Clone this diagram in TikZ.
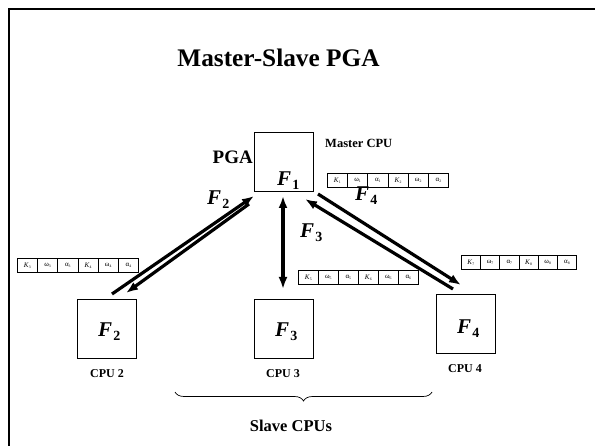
\documentclass[tikz,border=0pt]{standalone}
\usepackage{fontspec}
\setmainfont{Liberation Serif}
\usetikzlibrary{arrows.meta,decorations.pathreplacing,calc}

% bold italic F with an upright bold index
\newcommand{\Flab}[1]{{\bfseries\itshape F}\kern0.05em{\bfseries\raisebox{-0.32ex}{\fontsize{14}{14}\selectfont #1}}}
% gene labels in the chromosome strips
\newcommand{\gK}[1]{\textit{K}\raisebox{-0.35ex}{\fontsize{3.8}{4}\selectfont #1}}
\newcommand{\gw}[1]{ω\raisebox{-0.35ex}{\fontsize{3.8}{4}\selectfont #1}}
\newcommand{\ga}[1]{α\raisebox{-0.35ex}{\fontsize{3.8}{4}\selectfont #1}}

\tikzset{
  cpubox/.style={draw, line width=0.8pt, minimum size=59pt, inner sep=0pt},
  flabel/.style={font=\fontsize{21}{21}\selectfont, inner sep=0pt, anchor=base west},
  cpulabel/.style={font=\bfseries\fontsize{12}{12}\selectfont, inner sep=0pt, anchor=base},
  gene/.style={draw, line width=0.6pt, minimum width=20pt, minimum height=14pt,
    inner sep=0pt, font=\fontsize{7}{7}\selectfont},
  link/.style={line width=3.2pt, -{Latex[length=12pt,width=9pt]}},
  dlink/.style={line width=3.2pt, {Latex[length=12pt,width=9pt]}-{Latex[length=12pt,width=9pt]}},
}

% one chromosome strip of six genes, cells named <name>-1 ... <name>-6
\newcommand{\strip}[5]{%
  \foreach \lab [count=\i] in {\gK{#4},\gw{#4},\ga{#4},\gK{#5},\gw{#5},\ga{#5}}
    \node[gene, minimum width=#3, anchor=north west] (#1-\i)
      at ($(#2)+({(\i-1)*#3},0)$) {\lab};%
}

\begin{document}
\begin{tikzpicture}[x=1pt,y=-1pt]
  \useasboundingbox (0,0) rectangle (595,446);

  % slide frame
  \draw[line width=2pt] (595,9) -- (8.5,9) -- (8.5,446);

  % title
  \node[font=\bfseries\fontsize{25.3}{26}\selectfont, inner sep=0pt, anchor=base]
    (title) at (278.5,67) {Master-Slave PGA};

  % master processor
  \node[cpubox] (master) at (283.5,161.5) {};
  \node[flabel] (f1) at (277,186) {\Flab{1}};
  \node[font=\bfseries\fontsize{19}{19}\selectfont, inner sep=0pt, anchor=base west]
    (pga) at (212.5,164) {PGA};
  \node[font=\bfseries\fontsize{12.5}{12.5}\selectfont, inner sep=0pt, anchor=base west]
    (mlab) at (325,148) {Master CPU};

  % slave processors
  \node[cpubox] (s2) at (106.5,328.5) {};
  \node[cpubox] (s3) at (283.5,328.5) {};
  \node[cpubox] (s4) at (465.5,324) {};
  \node[flabel] (f2in) at (98,337) {\Flab{2}};
  \node[flabel] (f3in) at (275,337) {\Flab{3}};
  \node[flabel] (f4in) at (457,334) {\Flab{4}};
  \node[cpulabel] (c2) at (107,378) {CPU 2};
  \node[cpulabel] (c3) at (283,378) {CPU 3};
  \node[cpulabel] (c4) at (465,373) {CPU 4};

  % chromosome strips
  \coordinate (m0) at (327,173);
  \coordinate (a0) at (17,258);
  \coordinate (b0) at (298,270);
  \coordinate (c0) at (461,255);
  \strip{gm}{m0}{20.2pt}{1}{2}
  \strip{ga}{a0}{20.2pt}{3}{4}
  \strip{gb}{b0}{20pt}{5}{6}
  \strip{gc}{c0}{19.2pt}{7}{8}

  % migration links
  \coordinate (p2a) at (112,294);
  \coordinate (q2a) at (254,196);
  \coordinate (q2b) at (249,204);
  \coordinate (p2b) at (126,293);
  \draw[link] (p2a) -- (q2a);
  \draw[link] (q2b) -- (p2b);

  \coordinate (q3) at (283,196);
  \coordinate (p3) at (283,289);
  \draw[dlink] (q3) -- (p3);

  \coordinate (q4a) at (318,194);
  \coordinate (p4a) at (461,285);
  \coordinate (p4b) at (453,289);
  \coordinate (q4b) at (305,199);
  \draw[link] (q4a) -- (p4a);
  \draw[link] (p4b) -- (q4b);

  % link labels
  \node[flabel] (l2) at (207,205) {\Flab{2}};
  \node[flabel] (l3) at (300,238) {\Flab{3}};
  \node[flabel] (l4) at (355,201) {\Flab{4}};

  % slave group
  \coordinate (br1) at (175,392);
  \coordinate (br2) at (432,392);
  \draw[line width=0.7pt, decorate, decoration={brace, mirror, amplitude=9pt}] (br1) -- (br2);
  \node[font=\bfseries\fontsize{16.5}{16.5}\selectfont, inner sep=0pt, anchor=base]
    (slab) at (291,432) {Slave CPUs};
\end{tikzpicture}
\end{document}
